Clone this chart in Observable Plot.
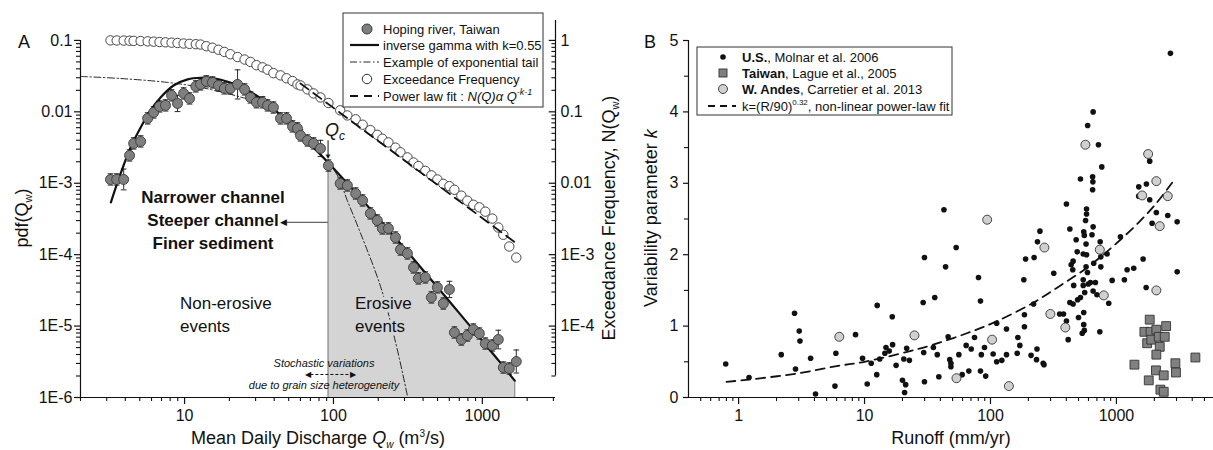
<!DOCTYPE html>
<html><head><meta charset="utf-8">
<script src="https://cdn.jsdelivr.net/npm/d3@7"></script>
<script src="https://cdn.jsdelivr.net/npm/@observablehq/plot@0.6"></script>
<style>
body{margin:0;background:#fff;}
#wrap{position:relative;width:1213px;height:450px;}
#wrap svg{position:absolute;left:0;top:0;overflow:visible;}
</style></head><body><div id="wrap"></div>
<script>
// ---------------- Panel A data ----------------
const hopingQ = [3.18,3.50,3.90,4.27,4.55,5.07,5.65,6.20,6.79,7.45, 8.18,8.97,9.85,10.8,11.9,12.8,14.0,15.4,16.9,18.5,
  20.3,22.7,25.3,27.7,30.4,33.4,36.1,39.5,44.1,48.4, 53.1,57.3,60.1,66.9,73.5,81.8,92.5,111,124,141,
  157,177,197,213,234,261,282,314,345,372, 414,455,499,547,601,649,723,793,870,955, 1047,1167,1280,1383,1517,1690];
const hopingPdf = [1.13e-3,1.13e-3,1.13e-3,2.45e-3,3.61e-3,3.85e-3,8.09e-3,9.8e-3,0.0119,0.0123,
  0.0170,0.0131,0.0181,0.0154,0.0227,0.0242,0.0267,0.0258,0.0234,0.0213,
  0.0213,0.0242,0.0206,0.0159,0.0136,0.0136,0.0123,0.0115,8.09e-3,8.09e-3,
  6.25e-3,5.86e-3,4.67e-3,3.97e-3,3.61e-3,3.07e-3,1.77e-3,9.93e-4,9.31e-4,7.19e-4,
  5.74e-4,3.78e-4,3.01e-4,2.33e-4,2.33e-4,1.74e-4,1.18e-4,1.04e-4,6.62e-5,4.65e-5,
  4.80e-5,2.52e-5,3.48e-5,2.07e-5,3.26e-5,8.13e-6,6.48e-6,7.38e-6,8.95e-6,7.87e-6,
  5.70e-6,5.35e-6,6.48e-6,2.63e-6,2.55e-6,3.19e-6];
const hopingErr = [1.2,1.2,1.4,1.2,1.2,1.2,1.2,1.2,1.2,1.2, 1.2,1.3,1.2,1.2,1.2,1.2,1.2,1.2,1.2,1.2,
  1.2,1.6,1.2,1.2,1.2,1.2,1.2,1.2,1.2,1.2, 1.2,1.2,1.2,1.2,1.2,1.3,1.2,1.2,1.2,1.2,
  1.2,1.2,1.2,1.2,1.2,1.2,1.2,1.2,1.2,1.2, 1.2,1.2,1.2,1.2,1.3,1.2,1.2,1.2,1.2,1.2, 1.2,1.2,1.35,1.2,1.2,1.45];
const exceedN = [1.00,0.998,0.995,0.99,0.985,0.98,0.97,0.96,0.95,0.94, 0.93,0.92,0.905,0.895,0.885,0.875,0.83,0.79,0.74,0.69,
  0.64,0.585,0.54,0.50,0.45,0.42,0.389,0.348,0.324,0.295, 0.27,0.242,0.234,0.206,0.181,0.159,0.133,0.105,0.089,0.0785,
  0.066,0.0555,0.0476,0.042,0.0373,0.0315,0.0271,0.0230,0.0195,0.0174, 0.0149,0.0129,0.0113,0.0098,0.0091,0.0081,0.0067,0.0057,0.0050,0.0046,
  0.0040,0.0032,0.0024,0.0019,0.0013,0.00091];
const gammaQ = [3.2,3.72,4.34,5.07,5.91,6.9,8.43,10.5,12.8,15.7,20,25,30,40,50,70,92,100,150,200,300,500,700,1000,1300,1650];
const gammaPdf = [5.4e-4,1.37e-3,3.17e-3,6.05e-3,0.0105,0.0159,0.0234,0.0285,0.030,0.0295,0.026,0.0215,0.0172,0.0108,7.0e-3,3.5e-3,1.95e-3,1.62e-3,6.4e-4,3.26e-4,1.23e-4,3.5e-5,1.52e-5,6.2e-6,3.2e-6,1.72e-6];
const expQ = [2.0,3.7,7.7,12.8,23.8,32.4,40,50,60,81.6,106,124,152,207,261,314];
const expPdf = [0.0313,0.0293,0.0258,0.0220,0.0161,0.0131,0.0104,7.0e-3,4.9e-3,2.6e-3,1.3e-3,5.7e-4,2.0e-4,3.6e-5,6.0e-6,1.05e-6];
const powerQ = [60, 1664];
const powerN = [0.25, 0.00148];
const Q_CRIT = 92;
const xMajorA = [10, 100, 1000];
const yMajorA = [0.1, 0.01, 1e-3, 1e-4, 1e-5, 1e-6];
const rightMajorA = [1, 0.1, 0.01, 1e-3, 1e-4];

// ---------------- Panel B data ----------------
const usPoints = [[0.79,0.47],[1.21,0.28],[2.18,0.60],[2.78,1.18],[2.83,0.40],[3.03,0.93],[3.07,0.79],[3.73,0.55],[4.08,0.05],[5.92,0.62],[5.82,0.16],[8.48,0.88],[9.64,0.55],[10.5,0.19],[11.3,0.48],[12.6,1.29],[12.5,0.32],[13.2,0.54],[14.5,0.62],[14.8,0.70],[15.7,0.65],[16.6,1.13],[16.7,0.74],[17.8,0.45],[20.0,0.24],[20.5,0.54],[20.8,0.07],[21.6,0.69],[21.2,0.18],[22.7,0.52],
[29.9,1.96],[29.2,1.33],[29.5,0.63],[29.9,0.22],[36.1,1.40],[35.2,0.70],[37.8,0.60],[38.9,0.29],[44.0,1.83],[46.1,0.85],[47.5,0.53],[48.5,0.48],[48.5,0.43],[53.4,2.10],[56.1,0.60],[59.6,0.32],[64.1,0.73],[67.3,0.37],[70.3,0.68],[74.7,0.84],[80.3,1.68],[83.3,1.35],[84.6,0.60],[83.3,0.37],[89.6,0.70],[91.6,0.30],[105,0.61],[112,1.04],[112,0.50],[123,0.52],[134,0.60],[134,0.96],[165,0.84],[171,0.73],[163,0.62],[184,1.65],[186,1.16],[186,0.99],[190,1.94],[210,0.59],[220,1.31],[222,1.96],[232,0.53],[234,0.68],[236,2.18],[247,2.33],[262,0.48],[266,0.46],[318,1.74],[354,1.17],[380,1.17],[401,1.07],[414,0.81],[427,2.36],[427,1.33],[437,1.86],[450,1.79],[453,1.91],[453,1.31],[458,1.57],[479,2.21],[488,2.04],[492,1.37],[500,1.12],[518,1.40],[535,0.90],[545,2.01],[545,1.65],[545,1.57],[550,1.19],[550,1.02],[556,0.94],[556,2.27],[550,2.32],[560,1.47],[569,2.48],[574,2.15],[574,1.83],[579,2.00],[589,1.75],[598,1.59],[622,1.61],[640,2.28],[653,2.39],[653,1.49],[660,1.88],[681,1.61],[700,1.44],[738,0.92],[743,2.18],[752,1.83],[752,1.97],[843,2.01],[869,1.32],[925,1.64],[1076,2.25],[1157,1.65],[1216,1.79],[1372,1.81],[1629,1.94],[1722,1.54],[1920,2.44],[3036,2.46],[3036,1.76],
[42.7,2.63],[401,2.71],[518,3.06],[579,2.64],[579,2.57],[591,3.81],[653,4.00],[647,3.09],[650,3.02],[647,2.91],[720,3.54],[765,3.23],[1504,2.95],[1504,2.82],[1730,2.99],[1838,3.31],[1838,2.77],[2075,2.59],[2556,2.55],[2684,4.82]];
const taiwanPoints = [[1838,1.09],[1667,0.92],[1867,0.92],[2075,0.95],[2482,1.00],[1754,0.76],[1891,0.81],[2168,0.85],[2419,0.85],[2208,0.71],[2075,0.60],[1390,0.46],[2939,0.48],[4237,0.56],[2060,0.38],[2375,0.31],[2970,0.35],[1806,0.24],[2234,0.11],[2375,0.08]];
const andesPoints = [[6.30,0.85],[24.9,0.87],[53.7,0.27],[94.1,2.49],[103,0.81],[140,0.16],[268,2.10],[299,1.17],[393,0.98],[567,3.54],[738,2.07],[794,1.43],[1600,2.83],[1786,3.41],[2075,3.03],[2075,1.50],[2208,2.40],[2556,2.82]];
const fitR = [0.8,1.2,3,6,10,23,35,65,113,220,360,545,750,1076,1500,2030,2800];
const fitK = [0.22,0.25,0.34,0.44,0.50,0.65,0.74,0.90,1.07,1.33,1.57,1.78,1.97,2.21,2.45,2.70,3.02];
const xMajorB = [1, 10, 100, 1000];
const yMajorB = [0, 1, 2, 3, 4, 5];
const yMinorB = [0.5, 1.5, 2.5, 3.5, 4.5];

// ---------------- build ----------------
const FONT = '"Liberation Sans", Arial, Helvetica, sans-serif';
const W = 1213, H = 450;
const mult = [2,3,4,5,6,7,8,9];
const xMinorA = [1,10,100,1000].flatMap(d => mult.map(m => m*d)).filter(v => v >= 2 && v <= 3100);
const yMinorA = [1e-6,1e-5,1e-4,1e-3,1e-2].flatMap(d => mult.map(m => m*d));
const rightMinorA = [1e-5,1e-4,1e-3,1e-2,1e-1].flatMap(d => mult.map(m => m*d)).map(v => v/10);
const xMinorB = [0.1,1,10,100,1000].flatMap(d => mult.map(m => m*d)).filter(v => v >= 0.45 && v <= 5900);
const RF = 10; // right axis = left axis * 10
const fmtLog = v => { const e = Math.round(Math.log10(v)); return e >= -2 ? String(+(10**e).toFixed(Math.max(0,-e))) : "1E" + e; };

const hoping = hopingQ.map((q,i) => ({Q:q, p:hopingPdf[i], err:hopingErr[i], N:exceedN[i]}));
const gamma = gammaQ.map((q,i) => ({Q:q, p:gammaPdf[i]}));
const expTail = expQ.map((q,i) => ({Q:q, p:expPdf[i]}));
const power = powerQ.map((q,i) => ({Q:q, N:powerN[i]}));
const areaPts = gamma.filter(d => d.Q >= Q_CRIT);
const qcP = gamma.find(d => d.Q === Q_CRIT).p;
const lastG = gamma[gamma.length-1];

const style = {background:"transparent", fontFamily:FONT, fontSize:"16px", color:"#111", overflow:"visible"};
const blank = () => "";

const plotA = Plot.plot({
  width: W, height: H, marginLeft: 80, marginRight: 658, marginTop: 20, marginBottom: 53,
  style,
  x: {type:"log", domain:[2, 3100], label:null},
  y: {type:"log", domain:[1e-6, 0.19], label:null},
  marks: [
    Plot.areaY(areaPts, {x:"Q", y1:1e-6, y2:"p", fill:"#d4d4d4", curve:"catmull-rom"}),
    Plot.ruleX([Q_CRIT], {y1:1e-6, y2:qcP, stroke:"#8a8a8a", strokeWidth:1.2}),
    Plot.ruleX([lastG.Q], {y1:1e-6, y2:lastG.p, stroke:"#8a8a8a", strokeWidth:1.2}),
    // axes
    Plot.ruleY([1e-6], {stroke:"#111", strokeWidth:1.2}),
    Plot.ruleX([2], {y1:1e-6, y2:0.1, stroke:"#111", strokeWidth:1.2}),
    Plot.ruleX([3100], {y1:2e-6, y2:0.19, stroke:"#111", strokeWidth:1.2}),
    Plot.axisX({ticks:xMajorA, tickSize:7, tickPadding:5, tickFormat:d => String(d), label:null, fontSize:16, strokeWidth:1.2}),
    Plot.axisX({ticks:xMinorA, tickSize:4, tickFormat:blank, label:null, strokeWidth:1.1}),
    Plot.axisY({ticks:yMajorA, tickSize:6, tickPadding:2, tickFormat:fmtLog, label:null, fontSize:16, strokeWidth:1.2}),
    Plot.axisY({ticks:yMinorA, tickSize:4, tickFormat:blank, label:null, strokeWidth:1.1}),
    Plot.axisY({anchor:"right", ticks:rightMajorA.map(v => v/RF), tickSize:0, tickPadding:5, tickFormat:d => fmtLog(d*RF), label:null, fontSize:16}),
    Plot.link(rightMajorA.map(v => v/RF), {x1:3100/1.11, x2:3100, y1:d => d, y2:d => d, stroke:"#111", strokeWidth:1.2}),
    Plot.link(rightMinorA, {x1:3100/1.065, x2:3100, y1:d => d, y2:d => d, stroke:"#111", strokeWidth:1.1}),
    // series
    Plot.line(expTail, {x:"Q", y:"p", stroke:"#111", strokeWidth:0.9, strokeDasharray:"7,2.5,1.5,2.5", curve:"catmull-rom"}),
    Plot.line(gamma, {x:"Q", y:"p", stroke:"#111", strokeWidth:2.2, curve:"catmull-rom"}),
    Plot.ruleX(hoping, {x:"Q", y1:d => d.p/d.err, y2:d => d.p*d.err, stroke:"#111", strokeWidth:0.9}),
    Plot.link(hoping, {x1:d => d.Q/1.045, x2:d => d.Q*1.045, y1:d => d.p*d.err, y2:d => d.p*d.err, stroke:"#111", strokeWidth:0.9}),
    Plot.link(hoping, {x1:d => d.Q/1.045, x2:d => d.Q*1.045, y1:d => d.p/d.err, y2:d => d.p/d.err, stroke:"#111", strokeWidth:0.9}),
    Plot.dot(hoping, {x:"Q", y:"p", r:5, fill:"#7f7f7f", stroke:"#3a3a3a", strokeWidth:0.9}),
    Plot.dot(hoping, {x:"Q", y:d => d.N/RF, r:4.7, fill:"white", stroke:"#333", strokeWidth:0.9}),
    Plot.line(power, {x:"Q", y:d => d.N/RF, stroke:"#111", strokeWidth:1.8, strokeDasharray:"10,6"}),
    // annotation arrows
    Plot.link([0], {x1:Q_CRIT, x2:Q_CRIT, y1:4.0e-3, y2:2.5e-3, stroke:"#111", strokeWidth:1}),
    Plot.text([0], {x:Q_CRIT, y:2.35e-3, text:() => "▼", fontSize:8, fill:"#111"}),
    Plot.link([0], {x1:Q_CRIT, x2:48, y1:2.83e-4, y2:2.83e-4, stroke:"#666", strokeWidth:1.2}),
    Plot.text([0], {x:46.5, y:2.83e-4, text:() => "◀", fontSize:9, fill:"#111"}),
    Plot.link([0], {x1:70, x2:131, y1:2.1e-6, y2:2.1e-6, stroke:"#111", strokeWidth:1, strokeDasharray:"3,2"}),
    Plot.text([0], {x:67, y:2.1e-6, text:() => "◀", fontSize:8, fill:"#111"}),
    Plot.text([0], {x:136, y:2.1e-6, text:() => "▶", fontSize:8, fill:"#111"})
  ]
});

const plotB = Plot.plot({
  width: W, height: H, marginLeft: 688, marginRight: 0, marginTop: 40, marginBottom: 53,
  style,
  x: {type:"log", domain:[0.4, 5900], label:null},
  y: {domain:[0, 5], label:null},
  marks: [
    Plot.ruleY([0], {stroke:"#111", strokeWidth:1.2}),
    Plot.ruleX([0.4], {y1:0, y2:5, stroke:"#111", strokeWidth:1.2}),
    Plot.axisX({ticks:xMajorB, tickSize:7, tickPadding:5, tickFormat:d => String(d), label:null, fontSize:16, strokeWidth:1.2}),
    Plot.axisX({ticks:xMinorB, tickSize:4, tickFormat:blank, label:null, strokeWidth:1.1}),
    Plot.axisY({ticks:yMajorB, tickSize:5, tickPadding:5, tickFormat:d => String(d), label:null, fontSize:16, strokeWidth:1.2}),
    Plot.axisY({ticks:yMinorB, tickSize:4, tickFormat:blank, label:null, strokeWidth:1.1}),
    Plot.line(fitR.map((r,i) => ({R:r, k:fitK[i]})), {x:"R", y:"k", stroke:"#111", strokeWidth:1.8, strokeDasharray:"9,6", curve:"catmull-rom"}),
    Plot.dot(usPoints, {x:d => d[0], y:d => d[1], r:2.8, fill:"#111"}),
    Plot.dot(taiwanPoints, {x:d => d[0], y:d => d[1], symbol:"square", r:5, fill:"#808080", stroke:"#333", strokeWidth:0.9}),
    Plot.dot(andesPoints, {x:d => d[0], y:d => d[1], r:4.5, fill:"#d0d0d0", stroke:"#333", strokeWidth:0.9})
  ]
});

const wrap = document.getElementById("wrap");
wrap.appendChild(plotA);
wrap.appendChild(plotB);

// ---------------- text & legends ----------------
function txt(g, x, y, size, parts, opt = {}) {
  const t = g.append("text").attr("x", x).attr("y", y).attr("font-size", size)
    .attr("font-family", FONT).attr("fill", "#111")
    .attr("text-anchor", opt.anchor || "start");
  if (opt.transform) t.attr("transform", opt.transform);
  if (opt.weight) t.attr("font-weight", opt.weight);
  if (opt.style) t.attr("font-style", opt.style);
  if (opt.halo) t.attr("stroke", opt.halo).attr("stroke-width", 7).attr("paint-order", "stroke").attr("stroke-linejoin", "round");
  for (const p of parts) {
    const s = typeof p === "string" ? {t:p} : p;
    const ts = t.append("tspan").text(s.t);
    if (s.i) ts.attr("font-style", "italic");
    if (s.b) ts.attr("font-weight", "bold");
    if (s.size) ts.attr("font-size", s.size);
    if (s.dy) ts.attr("dy", s.dy);
  }
  return t;
}

const gA = d3.select(plotA).append("g");
txt(gA, 18, 48, 18, ["A"]);
txt(gA, 28, 218, 18, ["pdf(Q", {t:"w", size:11, dy:4}, {t:")", dy:-4}], {anchor:"middle", transform:"rotate(-90,28,218)"});
txt(gA, 615, 218, 18, ["Exceedance Frequency, N(Q", {t:"w", size:11, dy:4}, {t:")", dy:-4}], {anchor:"middle", transform:"rotate(-90,615,218)"});
txt(gA, 318, 444, 18, ["Mean Daily Discharge ", {t:"Q", i:true}, {t:"w", i:true, size:10, dy:4}, {t:" (m", dy:-4}, {t:"3", size:10, dy:-7}, {t:"/s)", dy:7}], {anchor:"middle"});
txt(gA, 325, 136, 18, [{t:"Q", i:true}, {t:"c", i:true, size:12, dy:4}]);
txt(gA, 213, 203, 17, ["Narrower channel"], {anchor:"middle", weight:"bold"});
txt(gA, 213, 226, 17, ["Steeper channel"], {anchor:"middle", weight:"bold"});
txt(gA, 213, 249, 17, ["Finer sediment"], {anchor:"middle", weight:"bold"});
txt(gA, 180, 309, 17, ["Non-erosive"]);
txt(gA, 180, 332, 17, ["events"]);
txt(gA, 355, 309, 17, ["Erosive"], {halo:"#d4d4d4"});
txt(gA, 355, 332, 17, ["events"], {halo:"#d4d4d4"});
txt(gA, 324, 367, 11, ["Stochastic variations"], {anchor:"middle", style:"italic"});
txt(gA, 324, 389, 11, ["due to grain size heterogeneity"], {anchor:"middle", style:"italic"});

// legend A
const LA = gA.append("g");
LA.append("rect").attr("x",343).attr("y",13).attr("width",200).attr("height",94).attr("fill","white").attr("stroke","#333").attr("stroke-width",1);
const rowsA = [29, 45, 62, 79, 96];
LA.append("circle").attr("cx",367).attr("cy",rowsA[0]).attr("r",5).attr("fill","#7f7f7f").attr("stroke","#3a3a3a");
LA.append("line").attr("x1",350).attr("x2",379).attr("y1",rowsA[1]).attr("y2",rowsA[1]).attr("stroke","#111").attr("stroke-width",2.2);
LA.append("line").attr("x1",350).attr("x2",379).attr("y1",rowsA[2]).attr("y2",rowsA[2]).attr("stroke","#111").attr("stroke-width",0.9).attr("stroke-dasharray","7,2.5,1.5,2.5");
LA.append("circle").attr("cx",367).attr("cy",rowsA[3]).attr("r",4.7).attr("fill","white").attr("stroke","#333");
LA.append("line").attr("x1",350).attr("x2",379).attr("y1",rowsA[4]).attr("y2",rowsA[4]).attr("stroke","#111").attr("stroke-width",1.8).attr("stroke-dasharray","8,6");
txt(LA, 383, rowsA[0]+5, 13, ["Hoping river, Taiwan"]);
txt(LA, 383, rowsA[1]+5, 13, ["inverse gamma with k=0.55"]);
txt(LA, 383, rowsA[2]+5, 13, ["Example of exponential tail"]);
txt(LA, 383, rowsA[3]+5, 13, ["Exceedance Frequency"]);
txt(LA, 383, rowsA[4]+5, 13, ["Power law fit : ", {t:"N(Q)", i:true}, {t:"α Q", i:true}, {t:"-k-1", i:true, size:9, dy:-6}]);

const gB = d3.select(plotB).append("g");
txt(gB, 644, 48, 18, ["B"]);
txt(gB, 657, 218, 18, ["Variability parameter ", {t:"k", i:true}], {anchor:"middle", transform:"rotate(-90,657,218)"});
txt(gB, 951, 444, 18, ["Runoff (mm/yr)"], {anchor:"middle"});
const LB = gB.append("g");
LB.append("rect").attr("x",697).attr("y",47).attr("width",255).attr("height",68).attr("fill","white").attr("stroke","#333").attr("stroke-width",1);
const rowsB = [57, 73, 89, 106];
LB.append("circle").attr("cx",723).attr("cy",rowsB[0]).attr("r",2.8).attr("fill","#111");
LB.append("rect").attr("x",719).attr("y",rowsB[1]-4).attr("width",8).attr("height",8).attr("fill","#808080").attr("stroke","#333").attr("stroke-width",0.9);
LB.append("circle").attr("cx",723).attr("cy",rowsB[2]).attr("r",4.5).attr("fill","#d0d0d0").attr("stroke","#333").attr("stroke-width",0.9);
LB.append("line").attr("x1",708).attr("x2",736).attr("y1",rowsB[3]).attr("y2",rowsB[3]).attr("stroke","#111").attr("stroke-width",1.8).attr("stroke-dasharray","7,5");
txt(LB, 742, rowsB[0]+5, 13, [{t:"U.S.", b:true}, ", Molnar et al. 2006"]);
txt(LB, 742, rowsB[1]+5, 13, [{t:"Taiwan", b:true}, ", Lague et al., 2005"]);
txt(LB, 742, rowsB[2]+5, 13, [{t:"W. Andes", b:true}, ", Carretier et al. 2013"]);
txt(LB, 742, rowsB[3]+5, 13, ["k=(R/90)", {t:"0.32", size:8, dy:-6}, {t:", non-linear power-law fit", dy:6}]);
</script></body></html>
